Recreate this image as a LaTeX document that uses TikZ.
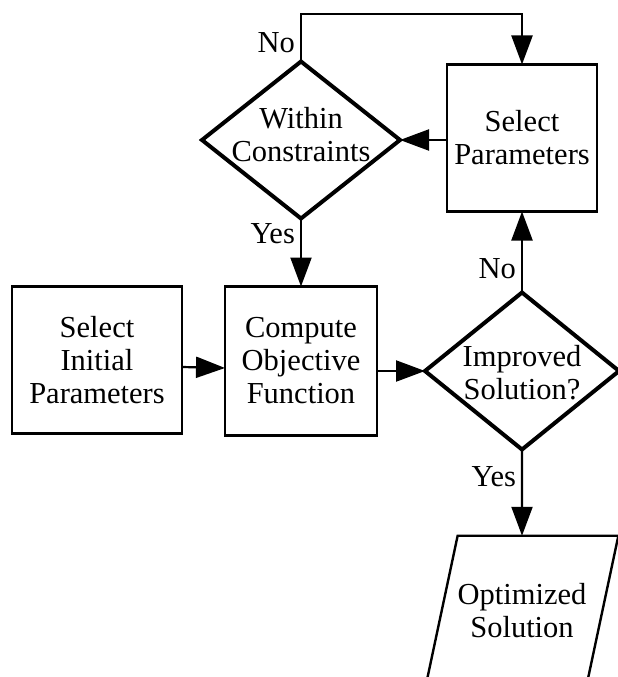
\documentclass[tikz,border=0pt]{standalone}
\usepackage{fontspec}
\setmainfont{Liberation Serif}
\usetikzlibrary{positioning, arrows.meta, shapes.geometric}

\begin{document}
\begin{tikzpicture}[
    x=1pt, y=1pt,
    font=\fontsize{30.5}{33}\selectfont,
    process/.style={rectangle, draw, line width=2.6pt, outer sep=0pt, minimum width=150pt, minimum height=147pt, align=center},
    decision/.style={diamond, draw, line width=4pt, outer sep=0pt, inner sep=0pt, minimum width=198pt, minimum height=157pt},
    result/.style={trapezium, trapezium left angle=78, trapezium right angle=102, trapezium stretches body=true, draw, line width=2.4pt, outer sep=0pt, inner xsep=0pt, inner ysep=48pt, minimum width=186pt, align=center},
    inside/.style={align=center, inner sep=0pt},
    answer/.style={inner sep=5pt},
    arrow/.style={-{Triangle[length=29pt, width=21pt]}, line width=2.2pt}
]
\useasboundingbox (0,0) rectangle (618,-677);

\node[decision] (within) at (301,-140) {};
\node[inside] (withintext) at (301,-135) {Within\\Constraints};
\node[process] (selpar) at (522,-138) {Select\\Parameters};
\node[process, minimum width=170pt] (init) at (97,-360) {Select\\Initial\\Parameters};
\node[process, minimum width=152pt, minimum height=149pt] (compute) at (301,-361) {Compute\\Objective\\Function};
\node[decision, minimum width=194pt] (improved) at (522,-371) {};
\node[inside] (improvedtext) at (522,-373) {Improved\\Solution?};
\node[result] (optim) at (522,-611) {Optimized\\Solution};
\coordinate (looptop) at (301,-14);

% loop back when outside the constraints
\draw[arrow] (within.north) -- node[answer, left, pos=0.39] {No} (looptop) -| (selpar.north);
\draw[arrow] (selpar.west |- within.east) -- (within.east);
\draw[arrow] (within.south) -- node[answer, left, pos=0.23] {Yes} (compute.north);

\draw[arrow] ([yshift=-7pt]init.east) -- ([yshift=-7pt]compute.west);
\draw[arrow] (compute.east |- improved.west) -- (improved.west);
\draw[arrow] (improved.north) -- node[answer, left, pos=0.3] {No} (selpar.south);
\draw[arrow] (improved.south) -- node[answer, left, pos=0.31] {Yes} (optim.north);

\end{tikzpicture}
\end{document}
